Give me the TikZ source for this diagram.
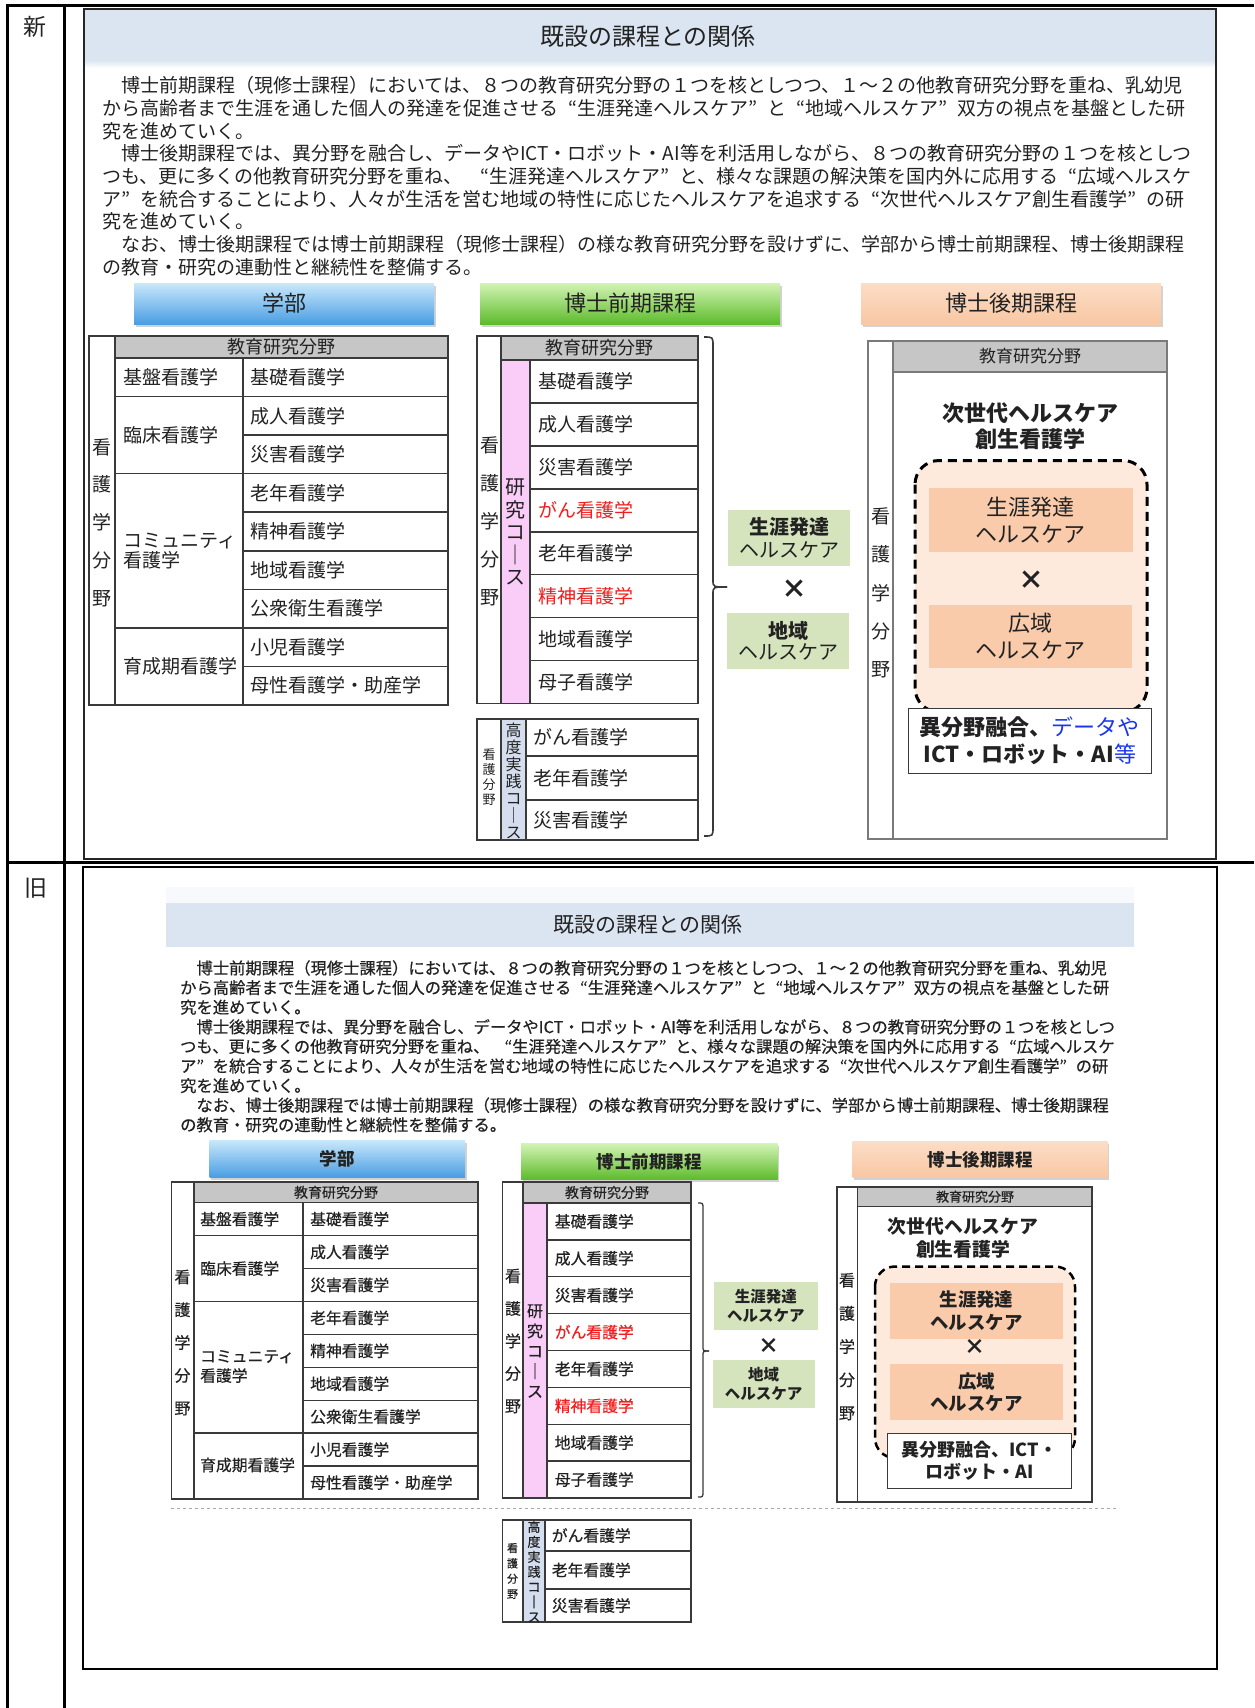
\documentclass[tikz,border=0pt]{standalone}
\usepackage{fontspec}
\setmainfont{Noto Sans CJK JP}
\newfontfamily\oldjp[FakeBold=0.5]{Noto Sans CJK JP}
\usetikzlibrary{shadows}
\definecolor{titlebg}{HTML}{DBE5F1}
\definecolor{faintbg}{HTML}{F7F9FC}
\definecolor{hdrgray}{HTML}{C6C6C6}
\definecolor{cGridA}{HTML}{3A3A3A}
\definecolor{cGridB}{HTML}{7A7A7A}
\definecolor{pinkcol}{HTML}{F9CDF7}
\definecolor{bluecol}{HTML}{D5DEEE}
\definecolor{greenbox}{HTML}{D6E4BE}
\definecolor{peachlt}{HTML}{FDEADC}
\definecolor{peachbox}{HTML}{F9CBAA}
\definecolor{txtdark}{HTML}{222222}
\definecolor{redtxt}{HTML}{F01E1E}
\definecolor{bluetxt}{HTML}{1A35F0}
\definecolor{gkTop}{HTML}{C9E8FB}
\definecolor{gkBot}{HTML}{4A9EE3}
\definecolor{zkTop}{HTML}{D3F4B4}
\definecolor{zkBot}{HTML}{5DBB2C}
\definecolor{kkTop}{HTML}{FCDDC6}
\definecolor{kkBot}{HTML}{F8C7A3}
\definecolor{dashgray}{HTML}{A8A8A8}
\newcommand\myfs[1]{\fontsize{#1pt}{#1pt}\selectfont}
\newcommand\vfs[2]{\fontsize{#1pt}{#2pt}\selectfont}
\newcommand\oq{\makebox[1em][r]{“}}
\newcommand\cq{\makebox[1em][l]{”}}
\begin{document}
\begin{tikzpicture}[x=1pt,y=-1pt,
  txt/.style={inner sep=0pt, text=txtdark},
  lt/.style={txt, anchor=west},
  gridA/.style={draw=cGridA, line width=1.6pt},
  gridB/.style={draw=cGridB, line width=1.6pt},
  gridO/.style={draw=cGridA, line width=1.3pt},
  hdrshadow/.style={drop shadow={shadow xshift=1.5pt, shadow yshift=-2.5pt, opacity=0.35, fill=gray}},
  gakubu/.style={top color=gkTop, bottom color=gkBot, inner sep=0pt, text=txtdark, hdrshadow},
  zenki/.style={top color=zkTop, bottom color=zkBot, inner sep=0pt, text=txtdark, hdrshadow},
  kouki/.style={top color=kkTop, bottom color=kkBot, inner sep=0pt, text=txtdark, hdrshadow},
  gbox/.style={fill=greenbox, inner sep=0pt, text=txtdark, align=center},
  pbox/.style={fill=peachbox, inner sep=0pt, text=txtdark, align=center},
  dashbox/.style={fill=peachlt, draw=black, dash pattern=on 9pt off 6pt, rounded corners=24pt},
  wbox/.style={fill=white, draw=cGridA, line width=1pt, inner sep=0pt, align=center, text=txtdark}
]
\useasboundingbox (0,0) rectangle (1254,1708);
\fill[white] (0,0) rectangle (1254,1708);

% ===== outer table =====
\draw[line width=3pt] (6,5.5) -- (1254,5.5);
\draw[line width=3pt] (6,862.5) -- (1254,862.5);
\draw[line width=2.5pt] (7.3,4) -- (7.3,1708);
\draw[line width=2.5pt] (64.5,4) -- (64.5,1708);
\node[txt, font=\myfs{23}] (labnew) at (35,27) {新};
\node[txt, font=\myfs{23}] (labold) at (36,888) {旧};

% ===== NEW section =====
\fill[titlebg] (84,10) rectangle (1215,60);
\shade[top color=titlebg, bottom color=white] (84,60) rectangle (1215,68);
\draw[line width=2pt, draw=black!85] (83.5,9.3) rectangle (1216,859);
\node[txt, font=\myfs{24}] (titlenew) at (648,36) {既設の課程との関係};

\begin{scope}[every node/.style={lt, font=\myfs{19}}]
\node (n1) at (121,85.5) {博士前期課程（現修士課程）においては、８つの教育研究分野の１つを核としつつ、１～２の他教育研究分野を重ね、乳幼児};
\node (n2) at (102,108.2) {から高齢者まで生涯を通した個人の発達を促進させる\oq 生涯発達ヘルスケア\cq と\oq 地域ヘルスケア\cq 双方の視点を基盤とした研};
\node (n3) at (102,130.9) {究を進めていく。};
\node (n4) at (121,153.6) {博士後期課程では、異分野を融合し、データやICT・ロボット・AI等を利活用しながら、８つの教育研究分野の１つを核としつ};
\node (n5) at (102,176.3) {つも、更に多くの他教育研究分野を重ね、\hspace{0.4em}\oq 生涯発達ヘルスケア\cq と、様々な課題の解決策を国内外に応用する\oq 広域ヘルスケ};
\node (n6) at (102,199) {ア\cq を統合することにより、人々が生活を営む地域の特性に応じたヘルスケアを追求する\oq 次世代ヘルスケア創生看護学\cq の研};
\node (n7) at (102,221.7) {究を進めていく。};
\node (n8) at (121,244.4) {なお、博士後期課程では博士前期課程（現修士課程）の様な教育研究分野を設けずに、学部から博士前期課程、博士後期課程};
\node (n9) at (102,267.1) {の教育・研究の連動性と継続性を整備する。};
\end{scope}

\node[gakubu, minimum width=300pt, minimum height=41pt, font=\myfs{22}] (gk1) at (284,303.5) {学部};
\node[zenki, minimum width=300pt, minimum height=41pt, font=\myfs{22}] (zk1) at (630,303.5) {博士前期課程};
\node[kouki, minimum width=300pt, minimum height=41pt, font=\myfs{22}] (kk1) at (1011,303.5) {博士後期課程};

% left table (new)
\fill[hdrgray] (115,336) rectangle (448,358);
\draw[gridA] (89,336) rectangle (448,705);
\draw[gridA] (115,336) -- (115,705);
\draw[gridA] (243,358) -- (243,705);
\draw[gridA] (115,358) -- (448,358);
\foreach \y in {396.56,435.11,473.67,512.22,550.78,589.33,627.89,666.44} \draw[gridA] (243,\y) -- (448,\y);
\foreach \y in {396.56,473.67,627.89} \draw[gridA] (115,\y) -- (243,\y);
\node[txt, font=\myfs{18}] (lhdr) at (281.5,347) {教育研究分野};
\node[txt, font=\vfs{19}{37.7}, align=center] (lv) at (102,522.5) {看\\護\\学\\分\\野};
\node[lt, font=\myfs{19}] (lg1) at (123,377.3) {基盤看護学};
\node[lt, font=\myfs{19}] (lg2) at (123,435.1) {臨床看護学};
\node[lt, font=\vfs{19}{20}, align=left] (lg3) at (123,550.8) {コミュニティ\\看護学};
\node[lt, font=\myfs{19}] (lg4) at (123,666.4) {育成期看護学};
\foreach \t [count=\i] in {基礎看護学,成人看護学,災害看護学,老年看護学,精神看護学,地域看護学,公衆衛生看護学,小児看護学,母性看護学・助産学}
  \node[lt, font=\myfs{19}] (lc\i) at (250,{358+(\i-0.5)*38.556}) {\t};

% middle table (new)
\fill[pinkcol] (501,360) rectangle (530,703.5);
\fill[hdrgray] (501,336) rectangle (698,360);
\draw[gridA] (477,336) rectangle (698,703.5);
\draw[gridA] (501,336) -- (501,703.5);
\draw[gridA] (530,360) -- (530,703.5);
\draw[gridA] (501,360) -- (698,360);
\foreach \y in {402.94,445.88,488.81,531.75,574.69,617.63,660.56} \draw[gridA] (530,\y) -- (698,\y);
\node[txt, font=\myfs{18}] (mhdr) at (599.5,348) {教育研究分野};
\node[txt, font=\vfs{19}{38}, align=center] (mv1) at (489.5,521.5) {看\\護\\学\\分\\野};
\node[txt, font=\vfs{20}{22.5}, align=center] (mv2) at (515.5,532) {研\\究\\コ\\｜\\ス};
\foreach \c/\t [count=\i] in {txtdark/基礎看護学,txtdark/成人看護学,txtdark/災害看護学,redtxt/がん看護学,txtdark/老年看護学,redtxt/精神看護学,txtdark/地域看護学,txtdark/母子看護学}
  \node[lt, font=\myfs{19}, text=\c] (mc\i) at (538,{360+(\i-0.5)*42.9375}) {\t};

% lower middle table (new)
\fill[bluecol] (501,719) rectangle (526,840);
\draw[gridA] (477,719) rectangle (698,840);
\draw[gridA] (501,719) -- (501,840);
\draw[gridA] (526,719) -- (526,840);
\draw[gridA] (526,756) -- (698,756);
\draw[gridA] (526,800) -- (698,800);
\node[txt, font=\vfs{13}{15}, align=center] (av1) at (489,777.5) {看\\護\\分\\野};
\node[txt, font=\vfs{16}{17}, align=center] (av2) at (513.5,781) {高\\度\\実\\践\\コ\\｜\\ス};
\node[lt, font=\myfs{19}] (ac1) at (533.5,737.5) {がん看護学};
\node[lt, font=\myfs{19}] (ac2) at (533.5,778) {老年看護学};
\node[lt, font=\myfs{19}] (ac3) at (533.5,820) {災害看護学};

% brace (new)
\coordinate (bt1) at (704,337);
\coordinate (bm1) at (727,587);
\coordinate (bb1) at (704,836);
\draw[cGridA, line width=1.6pt] (bt1) .. controls (713,337) .. (713,346) -- (713,580) .. controls (713,587) .. (bm1);
\draw[cGridA, line width=1.6pt] (bm1) .. controls (713,587) .. (713,594) -- (713,827) .. controls (713,836) .. (bb1);

% green boxes (new)
\node[gbox, minimum width=122pt, minimum height=56.5pt, font=\vfs{20}{22.5}] (gs1) at (789,537.8) {\bfseries 生涯発達\\ヘルスケア};
\node[txt, font=\bfseries\myfs{26}] (gx1) at (794,589) {×};
\node[gbox, minimum width=122pt, minimum height=56pt, font=\vfs{20}{21.5}] (gc1) at (788,641) {\bfseries 地域\\ヘルスケア};

% right table (new)
\fill[hdrgray] (893,341) rectangle (1167,372);
\draw[gridB] (868,341) rectangle (1167,839);
\draw[gridB] (893,341) -- (893,839);
\draw[gridB] (893,372) -- (1167,372);
\node[txt, font=\myfs{17}] (rhdr) at (1030,356.5) {教育研究分野};
\node[txt, font=\vfs{19}{38.2}, align=center] (rv) at (881,593) {看\\護\\学\\分\\野};
\node[txt, font=\bfseries\vfs{22}{26}, align=center] (rt) at (1030,426) {次世代ヘルスケア\\創生看護学};
\draw[dashbox, line width=3pt] (915,460.5) rectangle (1147,712);
\node[pbox, minimum width=203.5pt, minimum height=64pt, font=\vfs{22}{27}] (rp1) at (1030.75,520) {生涯発達\\ヘルスケア};
\node[txt, font=\bfseries\myfs{26}] (rx) at (1031.6,580) {×};
\node[pbox, minimum width=203pt, minimum height=63pt, font=\vfs{22}{27}] (rp2) at (1030.5,636.5) {広域\\ヘルスケア};
\node[wbox, minimum width=242.4pt, minimum height=65pt, font=\bfseries\vfs{22}{27}] (rw) at (1029.8,741) {異分野融合、{\mdseries\color{bluetxt}データや}\\ICT・ロボット・AI{\mdseries\color{bluetxt}等}};

% ===== OLD section =====
\fill[faintbg] (166,887) rectangle (1134,903);
\fill[titlebg] (166,903) rectangle (1134,947);
\draw[line width=2.5pt] (83,867) rectangle (1217,1669);
\node[txt, font=\myfs{21}] (titleold) at (648,925) {既設の課程との関係};

\begin{scope}[every node/.style={lt, font=\oldjp\myfs{16.3}}]
\node (o1) at (196.3,968) {博士前期課程（現修士課程）においては、８つの教育研究分野の１つを核としつつ、１～２の他教育研究分野を重ね、乳幼児};
\node (o2) at (180,987.6) {から高齢者まで生涯を通した個人の発達を促進させる\oq 生涯発達ヘルスケア\cq と\oq 地域ヘルスケア\cq 双方の視点を基盤とした研};
\node (o3) at (180,1007.2) {究を進めていく。};
\node (o4) at (196.3,1026.8) {博士後期課程では、異分野を融合し、データやICT・ロボット・AI等を利活用しながら、８つの教育研究分野の１つを核としつ};
\node (o5) at (180,1046.4) {つも、更に多くの他教育研究分野を重ね、\hspace{0.4em}\oq 生涯発達ヘルスケア\cq と、様々な課題の解決策を国内外に応用する\oq 広域ヘルスケ};
\node (o6) at (180,1066) {ア\cq を統合することにより、人々が生活を営む地域の特性に応じたヘルスケアを追求する\oq 次世代ヘルスケア創生看護学\cq の研};
\node (o7) at (180,1085.6) {究を進めていく。};
\node (o8) at (196.3,1105.2) {なお、博士後期課程では博士前期課程（現修士課程）の様な教育研究分野を設けずに、学部から博士前期課程、博士後期課程};
\node (o9) at (180,1124.8) {の教育・研究の連動性と継続性を整備する。};
\end{scope}

\node[gakubu, minimum width=255.5pt, minimum height=37pt, font=\bfseries\myfs{17.5}] (gk2) at (337.25,1158.5) {学部};
\node[zenki, minimum width=256.5pt, minimum height=36pt, font=\bfseries\myfs{17.5}] (zk2) at (649.25,1161.5) {博士前期課程};
\node[kouki, minimum width=255pt, minimum height=36pt, font=\bfseries\myfs{17.5}] (kk2) at (980,1159.5) {博士後期課程};

% left table (old)
\fill[hdrgray] (194,1182) rectangle (478,1202.6);
\draw[gridO] (171.5,1182) rectangle (478,1499);
\draw[gridO] (194,1182) -- (194,1499);
\draw[gridO] (303,1202.6) -- (303,1499);
\draw[gridO] (194,1202.6) -- (478,1202.6);
\foreach \y in {1235.5,1268.5,1301.4,1334.3,1367.3,1400.2,1433.1,1466.0} \draw[gridO] (303,\y) -- (478,\y);
\foreach \y in {1235.5,1301.4,1433.1} \draw[gridO] (194,\y) -- (303,\y);
\node[txt, font=\oldjp\myfs{14}] (olhdr) at (336,1192.3) {教育研究分野};
\node[txt, font=\oldjp\vfs{16}{32.8}, align=center] (olv) at (182.5,1342.6) {看\\護\\学\\分\\野};
\node[lt, font=\oldjp\myfs{15.8}] (olg1) at (200,1219.1) {基盤看護学};
\node[lt, font=\oldjp\myfs{15.8}] (olg2) at (200,1268.5) {臨床看護学};
\node[lt, font=\oldjp\vfs{15.8}{19.5}, align=left] (olg3) at (200,1366.5) {コミュニティ\\看護学};
\node[lt, font=\oldjp\myfs{15.8}] (olg4) at (200,1465) {育成期看護学};
\foreach \t [count=\i] in {基礎看護学,成人看護学,災害看護学,老年看護学,精神看護学,地域看護学,公衆衛生看護学,小児看護学,母性看護学・助産学}
  \node[lt, font=\oldjp\myfs{15.8}] (olc\i) at (310,{1202.6+(\i-0.5)*32.93}) {\t};

% middle table (old)
\fill[pinkcol] (523,1203) rectangle (547,1498);
\fill[hdrgray] (523,1182) rectangle (691,1203);
\draw[gridO] (502.6,1182) rectangle (691,1498);
\draw[gridO] (523,1182) -- (523,1498);
\draw[gridO] (547,1203) -- (547,1498);
\draw[gridO] (523,1203) -- (691,1203);
\foreach \y in {1239.9,1276.8,1313.6,1350.5,1387.4,1424.3,1461.1} \draw[gridO] (547,\y) -- (691,\y);
\node[txt, font=\oldjp\myfs{14}] (omhdr) at (607,1192.5) {教育研究分野};
\node[txt, font=\oldjp\vfs{16}{32.5}, align=center] (omv1) at (513,1341) {看\\護\\学\\分\\野};
\node[txt, font=\oldjp\vfs{16}{20.1}, align=center] (omv2) at (535,1351) {研\\究\\コ\\｜\\ス};
\foreach \c/\t [count=\i] in {txtdark/基礎看護学,txtdark/成人看護学,txtdark/災害看護学,redtxt/がん看護学,txtdark/老年看護学,redtxt/精神看護学,txtdark/地域看護学,txtdark/母子看護学}
  \node[lt, font=\oldjp\myfs{15.8}, text=\c] (omc\i) at (554.6,{1203+(\i-0.5)*36.875}) {\t};

% brace (old)
\coordinate (bt2) at (698,1203);
\coordinate (bm2) at (709,1351);
\coordinate (bb2) at (698,1497);
\draw[cGridA, line width=1.3pt] (bt2) .. controls (703,1203) .. (703,1209) -- (703,1346) .. controls (703,1351) .. (bm2);
\draw[cGridA, line width=1.3pt] (bm2) .. controls (703,1351) .. (703,1356) -- (703,1491) .. controls (703,1497) .. (bb2);

% dashed separator (old)
\coordinate (sepL) at (171,1508.7);
\coordinate (sepR) at (1119,1508.7);
\draw[dashgray, line width=1.5pt, dash pattern=on 3pt off 3pt] (sepL) -- (sepR);

% lower middle table (old)
\fill[bluecol] (523,1520) rectangle (545,1622);
\draw[gridO] (502.6,1520) rectangle (691,1622);
\draw[gridO] (523,1520) -- (523,1622);
\draw[gridO] (545,1520) -- (545,1622);
\draw[gridO] (545,1551) -- (691,1551);
\draw[gridO] (545,1589) -- (691,1589);
\node[txt, font=\oldjp\vfs{11}{15.3}, align=center] (oav1) at (512.5,1571) {看\\護\\分\\野};
\node[txt, font=\oldjp\vfs{13}{15}, align=center] (oav2) at (534,1571.5) {高\\度\\実\\践\\コ\\｜\\ス};
\node[lt, font=\oldjp\myfs{15.8}] (oac1) at (551.6,1535.5) {がん看護学};
\node[lt, font=\oldjp\myfs{15.8}] (oac2) at (551.6,1570) {老年看護学};
\node[lt, font=\oldjp\myfs{15.8}] (oac3) at (551.6,1605.5) {災害看護学};

% green boxes (old)
\node[gbox, minimum width=103.7pt, minimum height=47.6pt, font=\bfseries\vfs{15.5}{19}] (gs2) at (765.85,1305.8) {生涯発達\\ヘルスケア};
\node[txt, font=\bfseries\myfs{21}] (gx2) at (769,1345.7) {×};
\node[gbox, minimum width=102.2pt, minimum height=48pt, font=\bfseries\vfs{15.5}{19}] (gc2) at (763.7,1384) {地域\\ヘルスケア};

% right table (old)
\fill[hdrgray] (857.7,1187) rectangle (1092,1206.4);
\draw[gridO] (837,1187) rectangle (1092,1502);
\draw[gridO] (857.7,1187) -- (857.7,1502);
\draw[gridO] (857.7,1206.4) -- (1092,1206.4);
\node[txt, font=\oldjp\myfs{13}] (orhdr) at (975,1196.7) {教育研究分野};
\node[txt, font=\oldjp\vfs{16}{33.2}, align=center] (orv) at (847,1346.6) {看\\護\\学\\分\\野};
\node[txt, font=\bfseries\vfs{18.8}{23}, align=center] (ort) at (963,1237.5) {次世代ヘルスケア\\創生看護学};
\draw[dashbox, line width=2.5pt, dash pattern=on 8pt off 5pt, rounded corners=20pt] (875,1266.5) rectangle (1075,1458);
\node[pbox, minimum width=173pt, minimum height=56pt, font=\bfseries\vfs{18.4}{23}] (orp1) at (976.5,1311) {生涯発達\\ヘルスケア};
\node[txt, font=\bfseries\myfs{21}] (orx) at (975,1347) {×};
\node[pbox, minimum width=173pt, minimum height=55.6pt, font=\bfseries\vfs{18.4}{22}] (orp2) at (976.5,1391.8) {広域\\ヘルスケア};
\node[wbox, minimum width=183.3pt, minimum height=55.5pt, font=\bfseries\vfs{18}{22}] (orw) at (979.4,1460.8) {異分野融合、ICT・\\ロボット・AI};

\end{tikzpicture}
\end{document}
